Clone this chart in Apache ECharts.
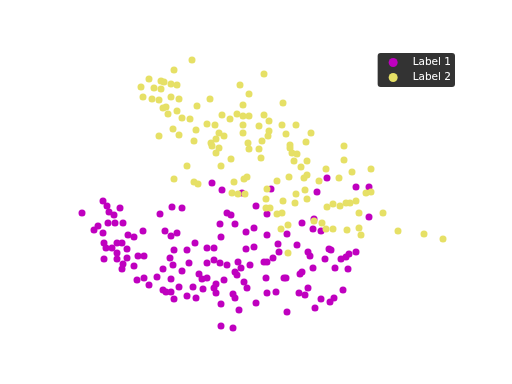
<!DOCTYPE html>
<html><head><meta charset="utf-8">
<script src="https://cdn.jsdelivr.net/npm/echarts@6/dist/echarts.min.js"></script>
<style>html,body{margin:0;padding:0;background:#fff}#c{width:512px;height:384px}</style>
</head><body><div id="c"></div>
<script>
const seriesNames = ["Label 1", "Label 2"];
const label1Points = [
[82,213],[103,201],[107,206],[120,208],[109,212],[114,215],[160,214],[108,223],[115,223],[123,223],[98,226],[94,230],[103,233],[143,231],[128,235],[134,237],[104,243],[117,243],[122,243],
[106,248],[112,248],[127,249],[117,253],[104,259],[117,259],[123,264],[127,258],[134,266],[138,256],[144,256],[122,269],[137,280],[144,278],[149,285],[157,277],[163,269],[163,290],
[212,183],[222,190],[242,193],[172,207],[182,208],[256,206],[227,213],[231,215],[220,224],[235,224],[165,231],[171,236],[177,233],[195,243],[221,237],[246,232],[254,228],[267,235],
[327,178],[271,189],[356,187],[317,192],[267,214],[314,219],[302,223],[313,229],[321,231],[287,234],[278,244],[297,245],[369,187],[369,217],
[174,250],[187,250],[207,248],[214,248],[246,249],[254,247],[170,258],[189,263],[173,265],[207,263],[214,260],[220,263],[227,265],[238,262],[241,268],[250,265],[235,272],[237,275],[264,262],[182,271],[199,274],[202,279],[207,278],[171,279],[224,280],[244,282],[216,284],[247,288],[179,287],[193,287],[203,289],[214,288],[216,293],[171,292],[174,299],[187,296],[196,298],[233,294],[235,298],[221,304],[256,303],[239,310],[221,326],[233,328],[166,292],
[279,252],[273,258],[267,262],[308,252],[310,256],[329,249],[331,250],[325,259],[341,259],[346,257],[349,254],[356,252],[335,268],[348,269],[313,268],[302,272],[300,274],[266,278],[284,278],[286,278],[308,288],[343,290],[267,293],[276,292],[299,293],[305,295],[321,299],[334,298],[330,302],[315,308],[287,312]
];
const label2Points = [
[192,60],[174,70],[149,79],[141,87],[154,88],[161,81],[161,89],[143,97],[152,99],[159,100],[163,108],[159,136],[264,74],
[164,82],[171,84],[177,85],[240,85],[249,94],[171,97],[179,99],[210,99],[166,107],[197,106],[177,111],[168,114],[243,105],[182,118],[190,119],[222,115],[230,119],[237,114],[243,116],[249,116],[264,115],
[207,124],[215,125],[243,125],[243,133],[259,126],[173,129],[179,135],[196,130],[219,133],[224,136],[216,139],[211,143],[194,141],[248,143],[262,141],
[283,103],[269,121],[282,125],[296,125],[269,131],[268,136],[286,134],[311,133],[306,142],[290,145],[344,146],
[212,146],[216,153],[219,148],[249,149],[259,149],[261,158],[231,159],[187,166],[221,166],[174,179],[194,182],[198,184],[234,182],[244,179],[247,177],[232,193],[238,194],[245,194],
[266,199],[266,208],[270,208],
[290,148],[292,153],[297,154],[294,161],[307,161],[344,160],[301,167],[326,169],[352,172],[307,175],[304,178],[289,177],[277,181],[319,181],[339,178],[267,189],[305,190],[296,194],[307,199],[283,201],[295,203],
[327,207],[333,204],[340,206],[346,203],[350,203],[356,201],[359,213],[277,214],[282,213],[314,221],[322,223],[281,229],[288,225],[326,229],[333,229],[347,230],[359,228],[361,235],
[371,169],[366,193],[371,192],[383,213],[398,231],[424,234],[443,239],[288,253]
];
const colors = ["#bf00bf", "#e6e066"];
const chart = echarts.init(document.getElementById('c'), null, {renderer: 'canvas'});
chart.setOption({
  animation: false,
  backgroundColor: '#ffffff',
  grid: {left: 64, right: 51, top: 46, bottom: 42},
  xAxis: {type: 'value', min: 64, max: 461, show: false},
  yAxis: {type: 'value', min: 46, max: 342, inverse: true, show: false},
  legend: {
    orient: 'vertical', right: 57, top: 53,
    backgroundColor: '#333333', borderRadius: 3, padding: [4, 4, 4, 11],
    itemWidth: 9, itemHeight: 9, itemGap: 4, icon: 'circle',
    textStyle: {color: '#ffffff', fontSize: 10.5, fontFamily: 'DejaVu Sans', padding: [0, 0, 0, 10]},
    data: seriesNames
  },
  series: [
    {name: seriesNames[0], type: 'scatter', data: label1Points, symbolSize: 7, itemStyle: {color: colors[0], opacity: 1}},
    {name: seriesNames[1], type: 'scatter', data: label2Points, symbolSize: 7, itemStyle: {color: colors[1], opacity: 1}}
  ]
});
</script></body></html>
